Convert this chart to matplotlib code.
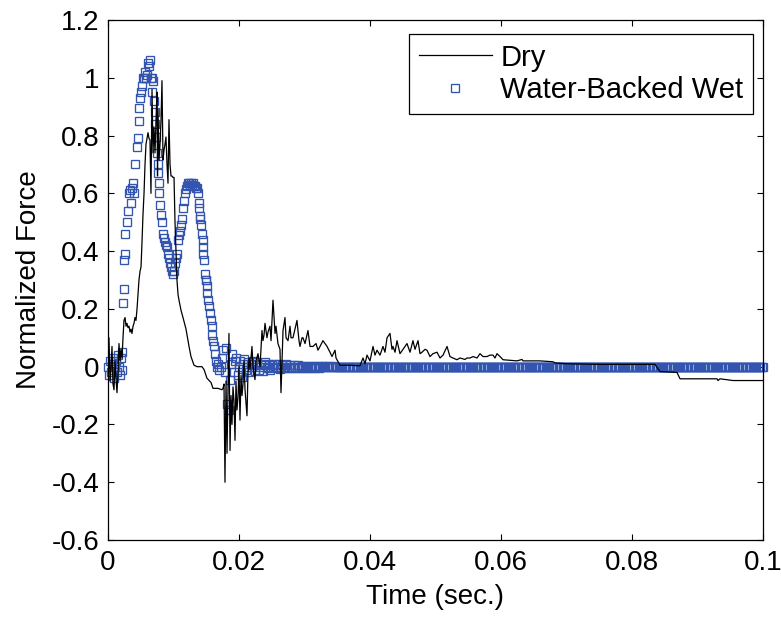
import numpy as np
import matplotlib
matplotlib.use("Agg")
import matplotlib.pyplot as plt
from matplotlib.ticker import FuncFormatter

plt.rcParams['font.family'] = ['Liberation Sans', 'DejaVu Sans']

# ---------------- data (time in ms, normalized force) ----------------
dry_ms = [0.0, 0.15, 0.31, 0.46, 0.61, 0.76, 0.92, 1.07, 1.22, 1.37, 1.53, 1.68, 1.83, 1.98,
          2.14, 2.29, 2.44, 2.60, 2.75, 2.90, 3.05, 3.21, 3.36, 3.51, 3.66, 3.82, 3.97, 4.12,
          4.27, 4.43, 4.58, 4.73, 4.89, 5.04, 5.19, 5.34, 5.50, 5.65, 5.80, 5.95, 6.11, 6.26,
          6.41, 6.56, 6.72, 6.87, 7.02, 7.18, 7.33, 7.48, 7.56, 7.63, 7.79, 7.94, 8.09, 8.24,
          8.40, 8.55, 8.70, 8.85, 9.01, 9.16, 9.31, 9.47, 9.62, 9.77, 9.92, 10.08, 10.23, 10.38,
          10.53, 10.69, 10.84, 11.15, 11.45, 11.91, 12.37, 12.67, 13.13, 13.59, 14.35, 14.66,
          15.11, 15.73, 16.03, 16.79, 17.40, 17.56, 17.71, 17.86, 18.02, 18.17, 18.32, 18.47,
          18.63, 18.78, 18.93, 19.08, 19.24, 19.39, 19.54, 19.69, 19.85, 20.00, 20.15, 20.31,
          20.46, 20.61, 20.76, 20.92, 21.22, 21.37, 21.53, 21.68, 21.98, 22.14, 22.44, 22.60,
          22.90, 23.21, 23.51, 23.66, 23.82, 23.97, 24.27, 24.43, 24.73, 24.89, 25.19, 25.50,
          25.65, 25.95, 26.26, 26.41, 26.72, 27.02, 27.18, 27.48, 27.79, 27.94, 28.24, 28.55,
          28.85, 29.16, 29.31, 29.62, 29.77, 30.08, 30.53, 30.84, 31.30, 31.76, 32.06, 32.37,
          32.82, 33.13, 33.44, 33.89, 34.20, 34.66, 34.81, 34.96, 35.42, 36.95, 38.47, 38.93,
          39.24, 39.54, 40.00, 40.46, 40.76, 41.07, 41.53, 41.98, 42.29, 42.60, 43.05, 43.36,
          43.51, 43.82, 44.12, 44.58, 45.04, 45.34, 45.65, 46.11, 46.56, 46.87, 47.33, 47.63,
          47.94, 48.40, 48.70, 49.16, 49.62, 50.23, 50.69, 51.15, 51.76, 52.21, 52.67, 53.28,
          53.74, 54.50, 54.81, 55.27, 55.73, 56.34, 56.79, 57.25, 57.86, 58.32, 58.78, 59.08,
          59.39, 59.85, 60.31, 61.37, 62.44, 63.21, 63.36, 65.95, 67.94, 68.24, 70.08, 75.11,
          83.51, 84.27, 86.87, 87.33, 92.98, 93.13, 93.44, 95.42, 100.0]
dry_force = [0.02, 0.10, -0.05, 0.0, 0.07, -0.06, -0.08, 0.02, -0.04, -0.09, -0.02, 0.08, 0.02, 0.06,
             0.03, 0.10, 0.16, 0.17, 0.14, 0.15, 0.135, 0.14, 0.12, 0.13, 0.115, 0.14, 0.15, 0.17,
             0.16, 0.20, 0.25, 0.30, 0.33, 0.345, 0.43, 0.525, 0.60, 0.70, 0.77, 0.79, 0.81, 0.79,
             0.785, 0.60, 0.96, 0.74, 0.83, 0.74, 0.855, 0.95, 0.66, 0.89, 0.715, 0.77, 0.85, 0.99,
             0.715, 0.75, 0.77, 0.795, 0.70, 0.635, 0.855, 0.70, 0.66, 0.66, 0.655, 0.655, 0.50, 0.40,
             0.30, 0.25, 0.23, 0.195, 0.17, 0.13, 0.07, 0.035, 0.005, 0.0, 0.0, -0.01,
             -0.04, -0.055, -0.075, -0.075, -0.08, -0.075, -0.06, -0.40, -0.05, -0.30, -0.08, 0.115,
             -0.29, -0.10, -0.20, -0.07, -0.12, -0.255, -0.05, -0.15, -0.105, 0.0, -0.185, -0.03,
             -0.10, -0.06, 0.02, -0.08, -0.17, -0.02, 0.03, -0.01, 0.07, 0.0, -0.045, 0.02,
             0.045, 0.0, 0.125, 0.09, 0.11, 0.15, 0.10, 0.12, 0.14, 0.09, 0.23, 0.115,
             0.14, 0.08, 0.06, -0.09, 0.125, 0.17, 0.10, 0.09, 0.14, 0.10, 0.10, 0.13,
             0.16, 0.09, 0.07, 0.10, 0.10, 0.08, 0.125, 0.07, 0.07, 0.08, 0.057, 0.07,
             0.09, 0.08, 0.07, 0.05, 0.035, 0.057, 0.03, 0.024, 0.005, 0.005, 0.003, 0.03,
             0.01, 0.04, 0.02, 0.07, 0.04, 0.057, 0.04, 0.07, 0.05, 0.10, 0.115, 0.06,
             0.07, 0.05, 0.09, 0.045, 0.06, 0.07, 0.08, 0.05, 0.09, 0.06, 0.09, 0.045,
             0.05, 0.06, 0.057, 0.035, 0.045, 0.05, 0.03, 0.04, 0.07, 0.035, 0.03, 0.024,
             0.03, 0.025, 0.03, 0.03, 0.035, 0.03, 0.045, 0.035, 0.035, 0.04, 0.04, 0.03,
             0.045, 0.035, 0.024, 0.022, 0.02, 0.025, 0.02, 0.02, 0.017, 0.013, 0.01, 0.008,
             0.008, -0.017, -0.02, -0.042, -0.042, -0.048, -0.042, -0.048, -0.048]

# Water-backed wet: impact part (irregular samples)
wet_ms_a = [0.0, 0.15, 0.3, 0.45, 0.6, 0.75, 0.9, 1.05, 1.2, 1.35, 1.5, 1.65, 1.8, 1.95, 2.1, 2.2,
            2.29, 2.37, 2.44, 2.60, 2.67, 2.90, 3.05, 3.13, 3.36, 3.51, 3.66, 3.82, 3.97, 4.12,
            4.43, 4.58, 4.66, 4.73, 4.89, 5.04, 5.19, 5.34, 5.50, 5.65, 5.80, 5.95, 6.11, 6.26,
            6.41, 6.56, 6.72, 6.79, 6.87, 7.02, 7.18, 7.25, 7.33, 7.48, 7.56, 7.63, 7.71, 7.79,
            7.94, 8.09, 8.24, 8.40, 8.55, 8.70, 8.85, 9.01, 9.16, 9.31, 9.47, 9.62, 9.77, 9.92,
            10.08, 10.23, 10.38, 10.53, 10.69, 10.84, 10.99, 11.15, 11.30, 11.45, 11.60, 11.76,
            11.91, 12.06, 12.21, 12.37, 12.52, 12.67, 12.82, 12.98, 13.13, 13.28, 13.44, 13.59,
            13.74, 13.82, 13.89, 14.05, 14.12, 14.20, 14.35, 14.43, 14.50, 14.58, 14.66, 14.81,
            14.89, 14.96, 15.11, 15.19, 15.27, 15.42, 15.57, 15.73, 15.88, 15.95, 16.03, 16.18,
            16.34, 16.49, 16.64]
wet_force_a = [0.0, -0.03, 0.02, -0.02, 0.01, 0.03, -0.04, 0.0, 0.02, -0.02, 0.04, 0.0, -0.03, 0.03, 0.05, -0.01,
               0.22, 0.27, 0.37, 0.39, 0.46, 0.50, 0.54, 0.60, 0.61, 0.565, 0.62, 0.635, 0.60, 0.70,
               0.76, 0.79, 0.85, 0.895, 0.93, 0.95, 0.97, 1.0, 1.0, 1.02, 1.0, 1.01, 1.05, 1.04,
               1.06, 1.0, 1.0, 0.95, 0.99, 0.92, 0.88, 0.84, 0.795, 0.74, 0.70, 0.67, 0.635, 0.60,
               0.56, 0.525, 0.50, 0.46, 0.445, 0.43, 0.42, 0.415, 0.39, 0.375, 0.36, 0.345, 0.33, 0.32,
               0.33, 0.36, 0.375, 0.39, 0.44, 0.455, 0.47, 0.49, 0.51, 0.55, 0.575, 0.60,
               0.615, 0.625, 0.635, 0.635, 0.63, 0.635, 0.63, 0.635, 0.625, 0.625, 0.62, 0.62,
               0.60, 0.565, 0.55, 0.52, 0.51, 0.49, 0.46, 0.44, 0.415, 0.39, 0.37, 0.32,
               0.30, 0.30, 0.28, 0.255, 0.23, 0.21, 0.185, 0.16, 0.14, 0.11, 0.09, 0.07,
               0.045, 0.02, 0.0]

# Water-backed wet: settling part, 16.8 .. 34.8 ms every 0.2 ms
wet_ms_b = np.arange(168, 350, 2) / 10.0
wet_force_b = [0.01, -0.01, 0.0, 0.03, 0.057, -0.02, 0.064, -0.13, -0.15, -0.045,
               0.01, 0.045, -0.02, 0.02, 0.03, -0.03, 0.0, 0.02, -0.035, 0.01,
               0.025, -0.01, 0.0, 0.015, -0.02, 0.01, 0.0, 0.02, -0.015, 0.005,
               0.015, -0.01, 0.0, 0.01, -0.015, 0.005, 0.015, -0.005, 0.0, 0.01,
               -0.01, 0.005, 0.0, 0.01, -0.005, 0.0, 0.008, -0.008, 0.0, 0.006,
               -0.006, 0.0, 0.008, -0.005, 0.0, 0.006, -0.006, 0.0, 0.005, -0.005,
               0.0, 0.005, -0.005, 0.0, 0.004, -0.004, 0.0, 0.004, -0.004, 0.0,
               0.003, -0.003, 0.0, 0.003, -0.003, 0.0, 0.003, -0.003, 0.0, 0.002,
               -0.002, 0.0, 0.002, -0.002, 0.0, 0.002, -0.002, 0.0, 0.001, -0.001,
               0.0]

# Water-backed wet: at rest, 35 .. 100 ms every 0.2 ms
wet_ms_c = np.arange(350, 1001, 2) / 10.0
wet_force_c = [0.0] * len(wet_ms_c)

x_ticks = [0, 0.02, 0.04, 0.06, 0.08, 0.1]
y_ticks = [-0.6, -0.4, -0.2, 0, 0.2, 0.4, 0.6, 0.8, 1.0, 1.2]

# ---------------- plot ----------------
dry_t = np.array(dry_ms) / 1000.0
wet_t = np.concatenate([wet_ms_a, wet_ms_b, wet_ms_c]) / 1000.0
wet_f = np.concatenate([wet_force_a, wet_force_b, wet_force_c])

fig = plt.figure(figsize=(7.81, 6.19), dpi=100)
ax = fig.add_axes([108 / 781, 1 - 540 / 619, 655 / 781, 520 / 619])

blue = '#3355b0'
l_wet, = ax.plot(wet_t, wet_f, linestyle='none', marker='s', markersize=5.3,
                 markerfacecolor='none', markeredgecolor=blue, markeredgewidth=0.95,
                 clip_on=False, zorder=2)
l_dry, = ax.plot(dry_t, dry_force, color='black', linewidth=0.9, zorder=3)

ax.set_xlim(0, 0.1)
ax.set_ylim(-0.6, 1.2)
ax.set_xticks(x_ticks)
ax.set_yticks(y_ticks)
fmt = FuncFormatter(lambda v, p: '{:g}'.format(round(v, 4)))
ax.xaxis.set_major_formatter(fmt)
ax.yaxis.set_major_formatter(fmt)
ax.tick_params(direction='in', length=4.5, width=0.8, top=True, right=True,
               labelsize=20, pad=7, colors='black')
ax.tick_params(axis='y', pad=6)
for s in ax.spines.values():
    s.set_linewidth(0.9)
    s.set_color('black')

ax.set_xlabel('Time (sec.)', fontsize=20, labelpad=6)
ax.set_ylabel('Normalized Force', fontsize=20, labelpad=7)

leg = ax.legend([l_dry, l_wet], ['Dry', 'Water-Backed Wet'], loc='upper right',
                bbox_to_anchor=((753 - 108) / 655, (540 - 34) / 520), borderaxespad=0,
                fontsize=21, handlelength=2.5, handletextpad=0.3, numpoints=1,
                labelspacing=0.15, borderpad=0.33, fancybox=False, framealpha=1,
                edgecolor='black')
leg.get_frame().set_linewidth(0.9)

fig.savefig('out.png', dpi=100, facecolor='white')
